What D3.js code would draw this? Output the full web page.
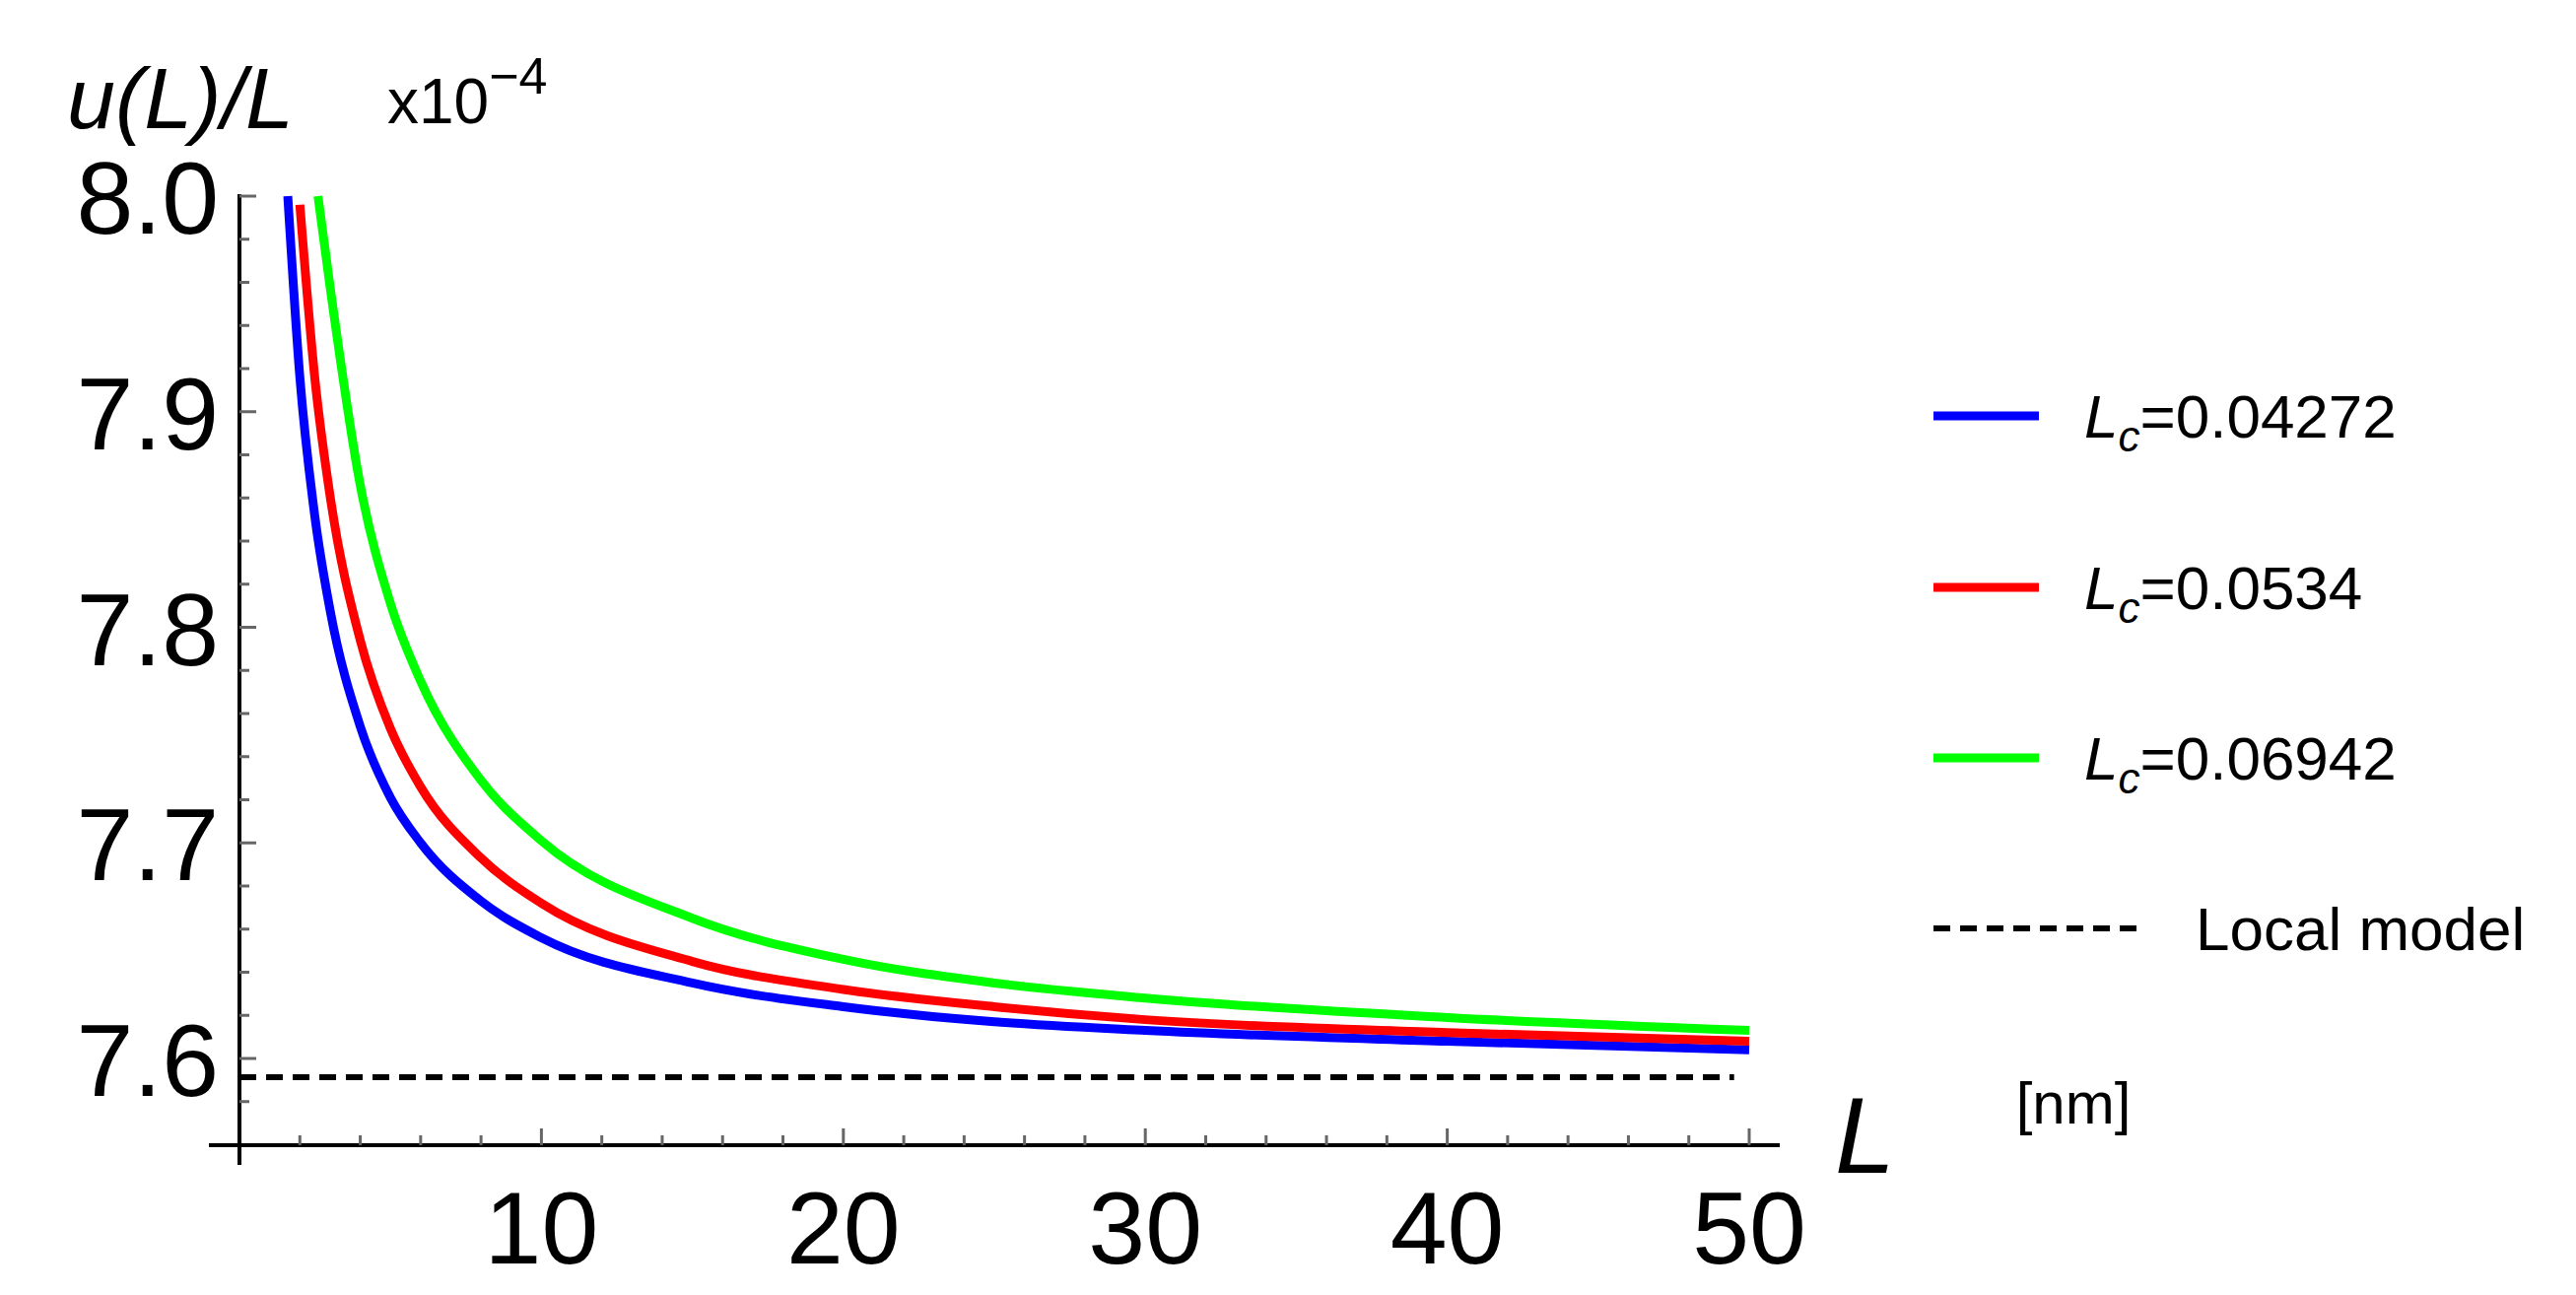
<!DOCTYPE html>
<html><head><meta charset="utf-8">
<script src="https://cdn.jsdelivr.net/npm/d3@7"></script>
<style>body{margin:0;background:#fff}</style>
</head><body>
<svg id="chart" width="2614" height="1314"></svg>
<script>
// data
const seriesNames = ["0.04272", "0.0534", "0.06942"]
const seriesColors = ["#0000ff", "#ff0000", "#00ff00"]
const blueL = [1.6, 2, 2.5, 3, 4, 5, 6, 8, 10, 15, 20, 25, 30, 40, 50]
const blueV = [8.0, 7.916, 7.851, 7.808, 7.754, 7.721, 7.700, 7.673, 7.656, 7.635, 7.624, 7.617, 7.613, 7.608, 7.604]
const redL = [2.0, 2.5, 3, 4, 5, 6, 8, 10, 15, 20, 25, 30, 40, 50]
const redV = [7.996, 7.915, 7.861, 7.794, 7.753, 7.726, 7.693, 7.672, 7.645, 7.632, 7.624, 7.618, 7.612, 7.608]
const greenL = [2.6, 3, 4, 5, 6, 8, 10, 15, 20, 25, 30, 40, 50]
const greenV = [8.0, 7.958, 7.866, 7.811, 7.775, 7.729, 7.701, 7.665, 7.646, 7.635, 7.628, 7.619, 7.613]
const localModel = 7.5913
const localRange = [0, 49.5]
const xTicks = [10, 20, 30, 40, 50]
const yTicks = [7.6, 7.7, 7.8, 7.9, 8.0]

const svg = d3.select("#chart")
const x = d3.scaleLinear().domain([0, 50]).range([243, 1775])
const y = d3.scaleLinear().domain([7.6, 8.0]).range([1074, 199])
const font = "Liberation Sans, Arial, sans-serif"

// axes
const xAxisY = y(7.5598)
svg.append("line").attr("x1", 212).attr("x2", 1806).attr("y1", xAxisY).attr("y2", xAxisY)
  .attr("stroke", "#000").attr("stroke-width", 4)
svg.append("line").attr("x1", x(0)).attr("x2", x(0)).attr("y1", y(8.0) - 2).attr("y2", 1182)
  .attr("stroke", "#000").attr("stroke-width", 4)

const xMinor = d3.range(2, 51, 2)
svg.append("g").selectAll("line").data(xMinor).join("line")
  .attr("x1", d => x(d)).attr("x2", d => x(d))
  .attr("y1", xAxisY).attr("y2", d => xAxisY - (d % 10 === 0 ? 17 : 10))
  .attr("stroke", "#666").attr("stroke-width", 3)
const yMinor = d3.range(7.58, 8.001, 0.02)
svg.append("g").selectAll("line").data(yMinor).join("line")
  .attr("x1", x(0)).attr("x2", d => x(0) + (Math.abs(Math.round(d * 10) - d * 10) < 0.01 ? 17 : 10))
  .attr("y1", d => y(d)).attr("y2", d => y(d))
  .attr("stroke", "#666").attr("stroke-width", 3)

svg.append("g").selectAll("text").data(xTicks).join("text")
  .attr("x", d => x(d)).attr("y", 1282).attr("text-anchor", "middle")
  .attr("font-family", font).attr("font-size", 104).text(d => d)
svg.append("g").selectAll("text").data(yTicks).join("text")
  .attr("x", 222).attr("y", d => y(d) + 38).attr("text-anchor", "end")
  .attr("font-family", font).attr("font-size", 104).text(d => d.toFixed(1))

// titles
svg.append("text").attr("x", 68).attr("y", 130).attr("font-family", font).attr("font-size", 88)
  .attr("font-style", "italic").text("u(L)/L")
const ex = svg.append("text").attr("x", 393).attr("y", 125).attr("font-family", font).attr("font-size", 64)
ex.append("tspan").text("x10")
ex.append("tspan").attr("dy", -30).attr("font-size", 52).text("\u22124")
svg.append("text").attr("x", 1862).attr("y", 1190).attr("font-family", font).attr("font-size", 110)
  .attr("font-style", "italic").text("L")
svg.append("text").attr("x", 2104).attr("y", 1140).attr("text-anchor", "middle")
  .attr("font-family", font).attr("font-size", 60).text("[nm]")

// curves
const line = d3.line().x(d => x(d[0])).y(d => y(d[1])).curve(d3.curveMonotoneX)
const series = [[blueL, blueV], [redL, redV], [greenL, greenV]]
series.forEach((s, i) => {
  svg.append("path").attr("d", line(d3.zip(s[0], s[1])))
    .attr("fill", "none").attr("stroke", seriesColors[i]).attr("stroke-width", 9)
})
svg.append("line").attr("x1", x(localRange[0])).attr("x2", x(localRange[1]))
  .attr("y1", y(localModel)).attr("y2", y(localModel))
  .attr("stroke", "#000").attr("stroke-width", 6).attr("stroke-dasharray", "17,10")

// legend
const rows = [422, 596, 769]
seriesNames.forEach((n, i) => {
  svg.append("line").attr("x1", 1962).attr("x2", 2069).attr("y1", rows[i]).attr("y2", rows[i])
    .attr("stroke", seriesColors[i]).attr("stroke-width", 9)
  const t = svg.append("text").attr("x", 2115).attr("y", rows[i] + 22)
    .attr("font-family", font).attr("font-size", 62)
  t.append("tspan").attr("font-style", "italic").text("L")
  t.append("tspan").attr("font-style", "italic").attr("font-size", 44).attr("dy", 14).text("c")
  t.append("tspan").attr("dy", -14).text("=" + n)
})
svg.append("line").attr("x1", 1962).attr("x2", 2172).attr("y1", 942).attr("y2", 942)
  .attr("stroke", "#000").attr("stroke-width", 6).attr("stroke-dasharray", "17,10")
svg.append("text").attr("x", 2228).attr("y", 964).attr("font-family", font).attr("font-size", 62)
  .text("Local model")
</script>
</body></html>
